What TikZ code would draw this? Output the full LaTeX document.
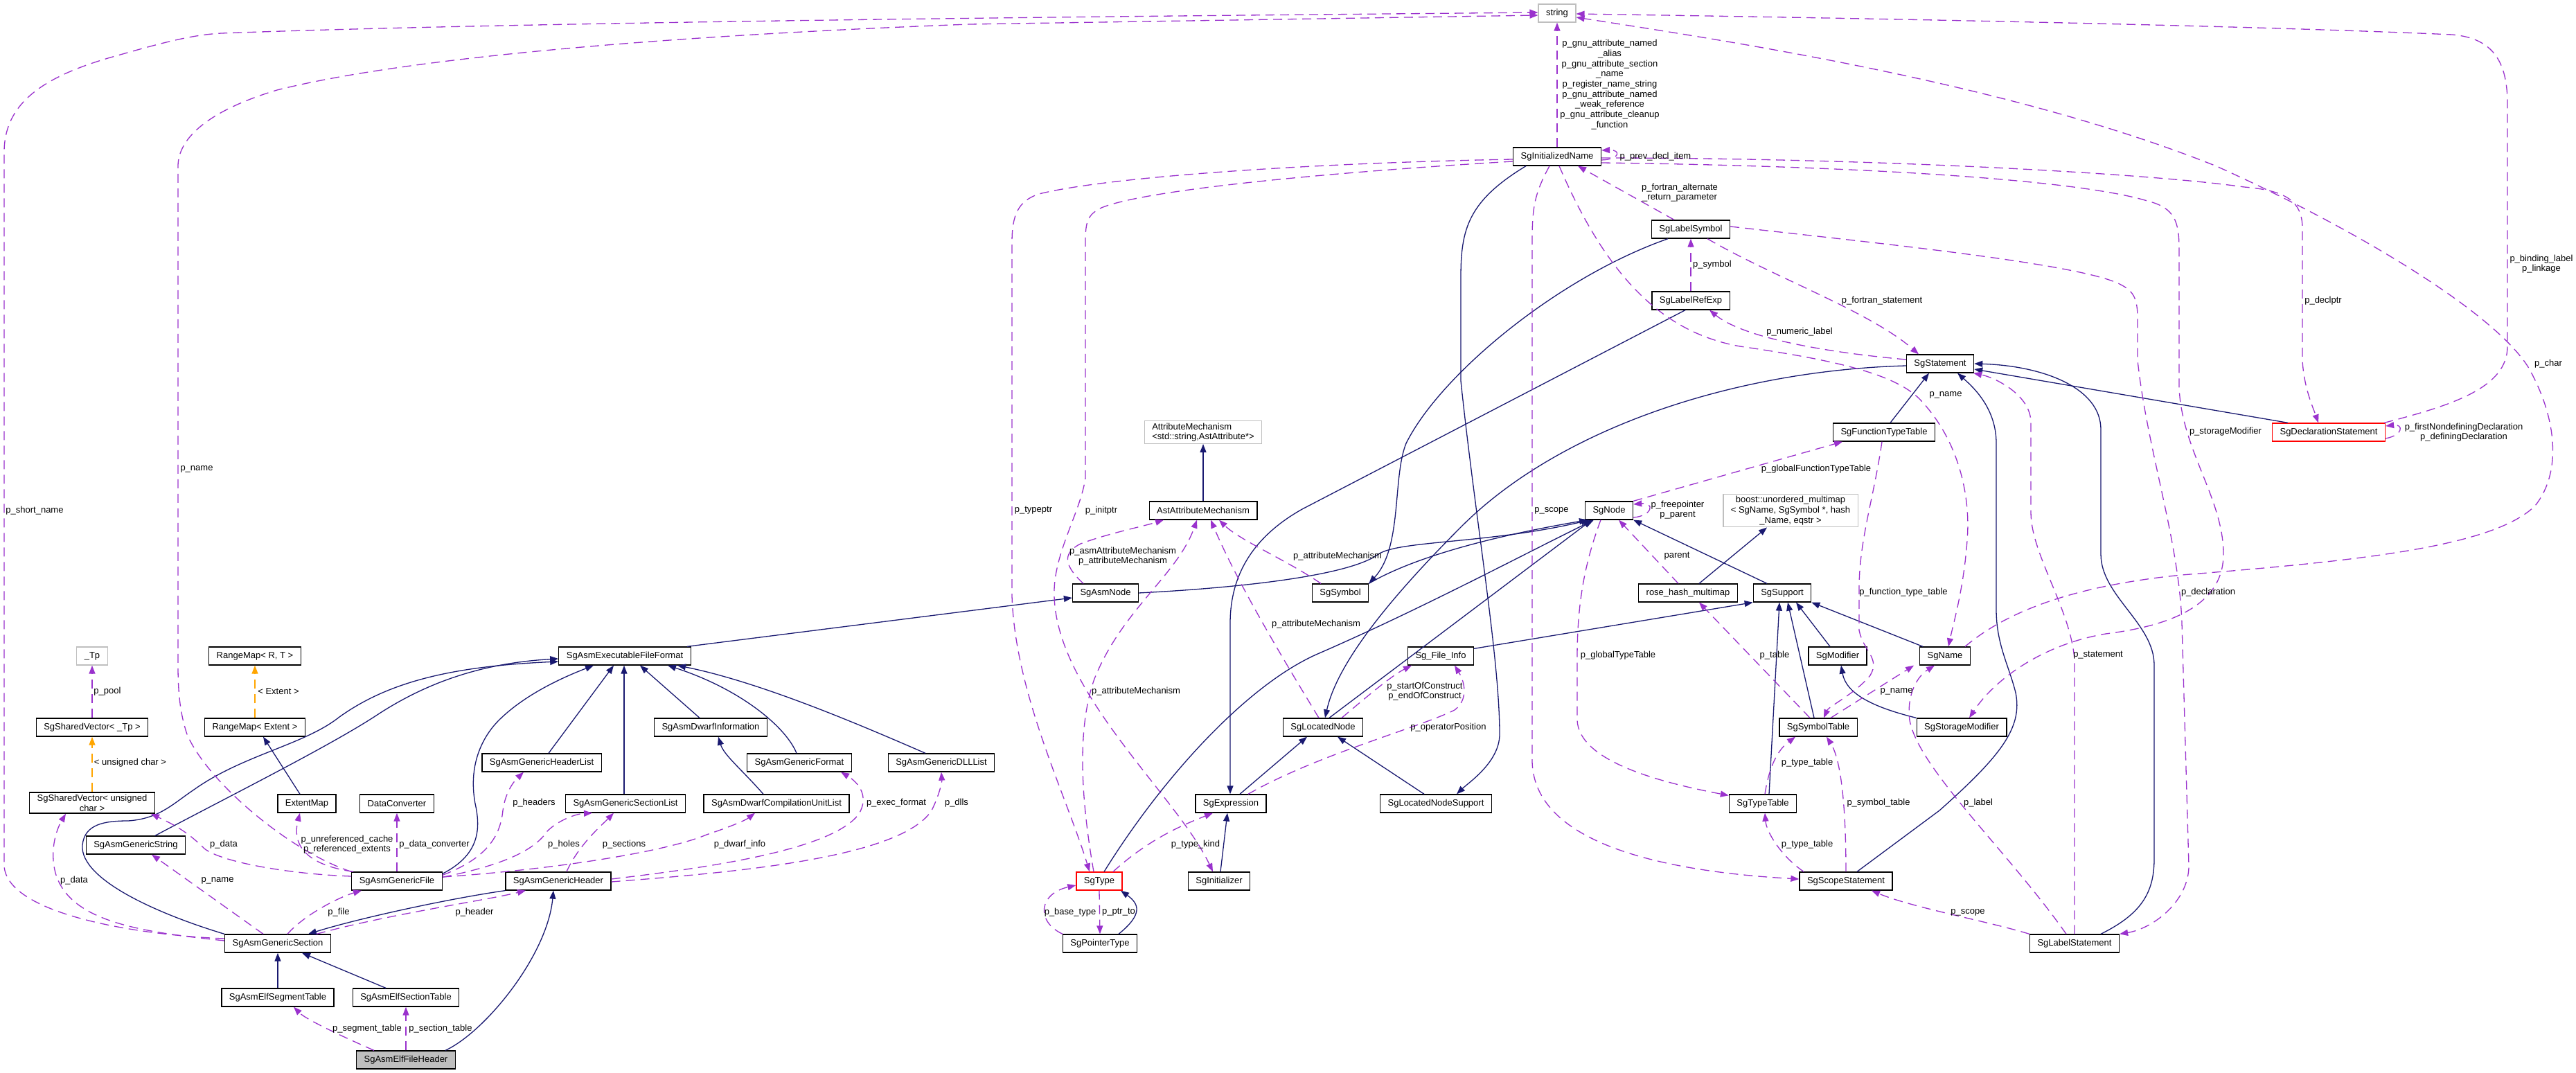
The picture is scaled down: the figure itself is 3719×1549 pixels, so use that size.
\documentclass[tikz,border=0pt]{standalone}
\usepackage{fontspec}
\setmainfont{Liberation Sans}
\usetikzlibrary{arrows.meta}
\definecolor{inhc}{RGB}{25,25,112}
\definecolor{usec}{RGB}{154,50,205}
\definecolor{tplc}{RGB}{255,165,0}
\definecolor{extc}{RGB}{191,191,191}

\begin{document}
\begin{tikzpicture}[x=1pt,y=-1pt,
    >={Triangle[length=12pt,width=9pt]},
    font=\fontsize{13}{14.7}\selectfont,
    nd/.style={draw=black, line width=1.3pt, fill=white, minimum height=26pt,
               inner xsep=11pt, inner ysep=3pt, align=center},
    ext/.style={nd, draw=extc},
    hot/.style={nd, draw=red},
    cur/.style={nd, fill=extc},
    lbl/.style={inner sep=0pt, align=center},
    inh/.style={->, draw=inhc, line width=1.3pt},
    use/.style={->, draw=usec, line width=1.3pt, dash pattern=on 13pt off 8pt},
    tpl/.style={->, draw=tplc, line width=1.3pt, dash pattern=on 13pt off 8pt}
  ]
  \useasboundingbox (0,0) rectangle (3719,1549);

  % classes
  \node[ext] (str)         at (2248,19)   {string};
  \node[nd]  (initname)    at (2248,226)  {SgInitializedName};
  \node[nd]  (labelsym)    at (2441,331)  {SgLabelSymbol};
  \node[nd]  (labelref)    at (2441,434)  {SgLabelRefExp};
  \node[nd]  (stmt)        at (2801,525)  {SgStatement};
  \node[hot] (declstmt)    at (3362,624)  {SgDeclarationStatement};
  \node[nd]  (functt)      at (2720,624)  {SgFunctionTypeTable};
  \node[ext, align=left] (attrmech) at (1737,624) {AttributeMechanism\\<std::string,AstAttribute*>};
  \node[nd]  (astattr)     at (1737,737)  {AstAttributeMechanism};
  \node[nd]  (sgnode)      at (2323,737)  {SgNode};
  \node[ext] (boostmm)     at (2585,737)  {boost::unordered\_multimap\\< SgName, SgSymbol *, hash\\\_Name, eqstr >};
  \node[nd]  (asmnode)     at (1596,856)  {SgAsmNode};
  \node[nd]  (sgsymbol)    at (1935,856)  {SgSymbol};
  \node[nd]  (rosehash)    at (2437,856)  {rose\_hash\_multimap};
  \node[nd]  (support)     at (2573,856)  {SgSupport};
  \node[ext] (tp)          at (133,947)   {\_Tp};
  \node[nd]  (rangemaprt)  at (368,947)   {RangeMap< R, T >};
  \node[nd]  (eff)         at (902,947)   {SgAsmExecutableFileFormat};
  \node[nd]  (fileinfo)    at (2080,947)  {Sg\_File\_Info};
  \node[nd]  (modifier)    at (2653,947)  {SgModifier};
  \node[nd]  (sgname)      at (2808,947)  {SgName};
  \node[nd]  (shvtp)       at (133,1050)  {SgSharedVector< \_Tp >};
  \node[nd]  (rangemapext) at (368,1050)  {RangeMap< Extent >};
  \node[nd]  (dwarfinfo)   at (1026,1050) {SgAsmDwarfInformation};
  \node[nd]  (located)     at (1910,1050) {SgLocatedNode};
  \node[nd]  (symtab)      at (2625,1050) {SgSymbolTable};
  \node[nd]  (storagemod)  at (2832,1050) {SgStorageModifier};
  \node[nd]  (hdrlist)     at (782,1101)  {SgAsmGenericHeaderList};
  \node[nd]  (genfmt)      at (1154,1101) {SgAsmGenericFormat};
  \node[nd]  (dlllist)     at (1359,1101) {SgAsmGenericDLLList};
  \node[nd]  (shvuc)       at (133,1159)  {SgSharedVector< unsigned\\char >};
  \node[nd]  (extentmap)   at (443,1160)  {ExtentMap};
  \node[nd]  (dataconv)    at (573,1160)  {DataConverter};
  \node[nd]  (seclist)     at (903,1160)  {SgAsmGenericSectionList};
  \node[nd]  (cul)         at (1121,1160) {SgAsmDwarfCompilationUnitList};
  \node[nd]  (expr)        at (1777,1160) {SgExpression};
  \node[nd]  (locsupport)  at (2073,1160) {SgLocatedNodeSupport};
  \node[nd]  (typetab)     at (2545,1160) {SgTypeTable};
  \node[nd]  (genstr)      at (196,1220)  {SgAsmGenericString};
  \node[nd]  (genfile)     at (573,1272)  {SgAsmGenericFile};
  \node[nd]  (genhdr)      at (806,1272)  {SgAsmGenericHeader};
  \node[hot] (sgtype)      at (1587,1272) {SgType};
  \node[nd]  (initializer) at (1760,1272) {SgInitializer};
  \node[nd]  (scopestmt)   at (2665,1272) {SgScopeStatement};
  \node[nd]  (gensec)      at (401,1362)  {SgAsmGenericSection};
  \node[nd]  (ptrtype)     at (1588,1362) {SgPointerType};
  \node[nd]  (labelstmt)   at (2995,1362) {SgLabelStatement};
  \node[nd]  (segtab)      at (401,1440)  {SgAsmElfSegmentTable};
  \node[nd]  (sectab)      at (586,1440)  {SgAsmElfSectionTable};
  \node[cur] (elfhdr)      at (586,1530)  {SgAsmElfFileHeader};

  % inheritance
  \draw[inh] ([xshift=57]elfhdr.north) .. controls (700,1490) and (790,1380) .. ([xshift=-7]genhdr.south);
  \draw[inh] (segtab) -- (gensec);
  \draw[inh] ([xshift=-29]sectab.north) -- ([xshift=35]gensec.south);
  \draw[inh] (genhdr.south west) .. controls (650,1297) and (520,1325) .. ([xshift=44]gensec.north);
  \draw[inh] (gensec.north west) .. controls (230,1320) and (115,1270) .. (119,1220)
             .. controls (122,1190) and (150,1185) .. (185,1185)
             .. controls (230,1182) and (250,1160) .. (280,1140)
             .. controls (350,1090) and (440,1075) .. (490,1035)
             .. controls (560,985) and (650,962) .. ([yshift=-8]eff.west);
  \draw[inh] ([xshift=28]genstr.north) .. controls (330,1150) and (470,1080) .. (540,1035)
             .. controls (600,995) and (680,958) .. ([yshift=-4]eff.west);
  \draw[inh] ([yshift=-3]genfile.north east) .. controls (690,1235) and (695,1200) .. (686,1160)
             .. controls (675,1100) and (700,1060) .. (720,1040)
             .. controls (760,1000) and (820,975) .. ([xshift=-45]eff.south);
  \draw[inh] ([xshift=10]hdrlist.north) -- ([xshift=-16]eff.south);
  \draw[inh] ([xshift=-2]seclist.north) -- ([xshift=-1]eff.south);
  \draw[inh] ([xshift=-16]dwarfinfo.north) -- ([xshift=22]eff.south);
  \draw[inh] ([xshift=-4]genfmt.north) .. controls (1135,1050) and (1070,995) .. ([xshift=62]eff.south);
  \draw[inh] ([xshift=-23]dlllist.north) .. controls (1250,1050) and (1100,985) .. ([xshift=76]eff.south);
  \draw[inh] ([xshift=-19]cul.north) .. controls (1070,1110) and (1045,1090) .. ([xshift=11]dwarfinfo.south);
  \draw[inh] ([xshift=-10]extentmap.north) -- ([xshift=12]rangemapext.south);
  \draw[inh] ([xshift=90]eff.north) -- ([yshift=-7]asmnode.west);
  \draw[inh] (asmnode.east) .. controls (1800,848) and (1950,830) .. (1990,800)
             .. controls (2020,780) and (2150,785) .. ([xshift=-28]sgnode.south);
  \draw[inh] (sgsymbol.north east) .. controls (2040,805) and (2150,775) .. ([xshift=-31]sgnode.south);
  \draw[inh] ([xshift=9]located.north) -- ([xshift=-25]sgnode.south);
  \draw[inh] ([xshift=7]sgtype.north) .. controls (1680,1120) and (1800,990) .. (1900,945)
             .. controls (2050,880) and (2200,800) .. ([xshift=-22]sgnode.south);
  \draw[inh] ([xshift=-22]support.north) -- (sgnode.south east);
  \draw[inh] ([xshift=-33]labelsym.south) .. controls (2250,400) and (2080,540) .. (2030,640)
             .. controls (2010,690) and (2025,790) .. (sgsymbol.north east);
  \draw[inh] ([xshift=-45]initname.south) .. controls (2120,290) and (2109,330) .. (2109,400)
             -- (2109,550) .. controls (2130,750) and (2165,950) .. (2165,1060)
             .. controls (2165,1100) and (2120,1130) .. ([xshift=30]locsupport.north);
  \draw[inh] ([xshift=-8]labelref.south) -- (1880,735) .. controls (1800,780) and (1776,840) .. (1776,900)
             -- ([xshift=-1]expr.north);
  \draw[inh] ([yshift=-3]stmt.west) .. controls (2500,535) and (2250,620) .. (2110,760)
             .. controls (2000,870) and (1930,960) .. ([xshift=3]located.north);
  \draw[inh] ([xshift=13]expr.north) -- ([xshift=-23]located.south);
  \draw[inh] ([xshift=-17]locsupport.north) -- ([xshift=21]located.south);
  \draw[inh] ([yshift=-3]fileinfo.north east) -- (support.south west);
  \draw[inh] ([xshift=9]typetab.north) -- ([xshift=-4]support.south);
  \draw[inh] ([xshift=-6]symtab.north) -- ([xshift=8]support.south);
  \draw[inh] ([xshift=-11]modifier.north) -- ([xshift=20]support.south);
  \draw[inh] ([xshift=-32]sgname.north) -- (support.south east);
  \draw[inh] (storagemod.north west) .. controls (2700,1020) and (2665,1000) .. ([xshift=5]modifier.south);
  \draw[inh] ([xshift=16]rosehash.north) -- ([xshift=-34]boostmm.south);
  \draw[inh] (astattr) -- (attrmech);
  \draw[inh] ([xshift=27]ptrtype.north) .. controls (1650,1320) and (1645,1305) .. ([xshift=31]sgtype.south);
  \draw[inh] ([xshift=2]initializer.north) -- ([xshift=-5]expr.south);
  \draw[inh] ([xshift=16]scopestmt.north) -- (2800,1170) .. controls (2890,1090) and (2920,1050) .. (2910,1000)
             .. controls (2900,960) and (2882,930) .. (2882,880) -- (2882,640)
             .. controls (2882,590) and (2850,560) .. ([xshift=25]stmt.south);
  \draw[inh] ([xshift=38]labelstmt.north) .. controls (3090,1320) and (3110,1290) .. (3110,1240)
             -- (3110,960) .. controls (3110,900) and (3033,860) .. (3033,800) -- (3033,620)
             .. controls (3033,560) and (2950,528) .. (stmt.east);
  \draw[inh] ([xshift=-59]declstmt.north) -- ([yshift=-8]stmt.east);
  \draw[inh] ([xshift=9]functt.north) -- ([xshift=-16]stmt.south);

  % templates
  \draw[tpl] (shvuc.north) -- (shvtp.south);
  \draw[tpl] (rangemapext.north) -- (rangemaprt.south);

  % usage
  \draw[use] ([xshift=-46]elfhdr.north) .. controls (480,1490) and (440,1470) .. ([xshift=23]segtab.south);
  \draw[use] (elfhdr.north) -- (sectab.south);
  \draw[use] ([xshift=56]gensec.north) .. controls (560,1320) and (700,1300) .. ([xshift=-47]genhdr.south);
  \draw[use] ([xshift=14]gensec.north) .. controls (440,1320) and (490,1295) .. ([xshift=-51]genfile.south);
  \draw[use] ([xshift=-21]gensec.north) -- ([xshift=23]genstr.south);
  \draw[use] ([yshift=4]gensec.west) .. controls (200,1345) and (100,1330) .. (80,1260)
             .. controls (72,1230) and (80,1200) .. ([xshift=-38]shvuc.south);
  \draw[use] ([yshift=7]gensec.west) .. controls (200,1350) and (10,1320) .. (6,1250) -- (6,220)
             .. controls (6,150) and (60,110) .. (170,80) .. controls (240,60) and (280,50) .. (320,48)
             .. controls (800,30) and (1800,22) .. ([yshift=1]str.west);
  \draw[use] (genfile.north west) .. controls (420,1230) and (300,1130) .. (270,1060)
             .. controls (260,1030) and (257,1000) .. (257,960) -- (257,240)
             .. controls (257,200) and (300,160) .. (400,130)
             .. controls (600,80) and (1000,50) .. (1400,35) -- ([yshift=-3]str.west);
  \draw[use] ([yshift=7]genfile.west) .. controls (420,1262) and (320,1245) .. (295,1225)
             .. controls (270,1200) and (250,1190) .. ([xshift=-6]shvuc.south east);
  \draw[use] ([xshift=3]genfile.north west) .. controls (450,1250) and (420,1225) .. ([xshift=-10]extentmap.south);
  \draw[use] (genfile.north) -- (dataconv.south);
  \draw[use] ([yshift=-5]genfile.north east) .. controls (700,1240) and (722,1210) .. (726,1170)
             .. controls (730,1140) and (745,1125) .. ([xshift=-26]hdrlist.south);
  \draw[use] ([yshift=-8]genfile.north east) .. controls (720,1250) and (770,1230) .. (790,1200)
             .. controls (805,1185) and (830,1175) .. ([xshift=-48]seclist.south);
  \draw[use] ([xshift=12]genhdr.north) .. controls (835,1220) and (870,1190) .. ([xshift=-17]seclist.south);
  \draw[use] ([yshift=6]genfile.east) .. controls (800,1255) and (960,1230) .. (1020,1205)
             .. controls (1050,1195) and (1075,1185) .. ([xshift=-31]cul.south);
  \draw[use] ([yshift=3]genhdr.east) .. controls (1000,1255) and (1200,1230) .. (1240,1175)
             .. controls (1255,1150) and (1240,1130) .. ([xshift=60]genfmt.south);
  \draw[use] ([yshift=-1]genhdr.east) .. controls (1050,1260) and (1300,1240) .. (1345,1170)
             .. controls (1355,1150) and (1360,1130) .. (dlllist.south);
  \draw[use] (shvtp.north) -- (tp.south);
  \draw[use] ([xshift=-32]asmnode.north) .. controls (1540,820) and (1530,800) .. (1560,785)
             .. controls (1600,770) and (1650,760) .. ([xshift=-57]astattr.south);
  \draw[use] ([xshift=-8]sgtype.north) .. controls (1560,1150) and (1555,1050) .. (1580,980)
             .. controls (1620,880) and (1700,830) .. ([xshift=-9]astattr.south);
  \draw[use] ([xshift=-6]located.north) .. controls (1870,980) and (1790,850) .. ([xshift=11]astattr.south);
  \draw[use] ([xshift=-28]sgsymbol.north) .. controls (1860,810) and (1790,780) .. ([xshift=23]astattr.south);
  \draw[use] ([yshift=-10]sgnode.east) .. controls (2385,745) and (2390,725) .. ([yshift=9]sgnode.east);
  \draw[use] (sgnode.north east) -- ([xshift=-60]functt.south);
  \draw[use] ([xshift=-14]rosehash.north) -- ([xshift=14]sgnode.south);
  \draw[use] ([xshift=-12]sgnode.south) .. controls (2285,820) and (2277,880) .. (2277,950) -- (2277,1040)
             .. controls (2280,1100) and (2400,1130) .. ([yshift=-2]typetab.north west);
  \draw[use] ([xshift=-3]functt.south) .. controls (2705,720) and (2684,780) .. (2684,850) -- (2684,910)
             .. controls (2690,940) and (2715,950) .. (2700,975)
             .. controls (2680,1000) and (2640,1020) .. ([xshift=8]symtab.north);
  \draw[use] ([xshift=-12]symtab.north) -- ([xshift=16]rosehash.south);
  \draw[use] ([xshift=18]symtab.north) -- ([xshift=-8]sgname.south west);
  \draw[use] ([xshift=-61]scopestmt.north) .. controls (2570,1235) and (2550,1200) .. ([xshift=3]typetab.south);
  \draw[use] ([xshift=3]typetab.north) .. controls (2555,1100) and (2570,1080) .. ([xshift=-33]symtab.south);
  \draw[use] (scopestmt.north) .. controls (2665,1180) and (2660,1100) .. ([xshift=12]symtab.south);
  \draw[use] ([xshift=-11]initname.south) .. controls (2215,280) and (2212,300) .. (2212,350) -- (2212,1100)
             .. controls (2215,1200) and (2350,1255) .. ([yshift=3]scopestmt.west);
  \draw[use] (labelstmt.north west) .. controls (2870,1330) and (2760,1310) .. ([xshift=37]scopestmt.south);
  \draw[use] ([xshift=-12]labelstmt.north) .. controls (2900,1230) and (2770,1110) .. (2757,1040)
             .. controls (2752,1000) and (2770,975) .. ([xshift=-15]sgname.south);
  \draw[use] (labelstmt.north) -- (2995,953) .. controls (2990,880) and (2932,800) .. (2932,740) -- (2932,610)
             .. controls (2932,570) and (2880,545) .. ([xshift=48]stmt.south);
  \draw[use] ([yshift=4]labelsym.east) .. controls (2700,350) and (3000,380) .. (3060,410)
             .. controls (3080,420) and (3086,430) .. (3086,460) -- (3086,520)
             .. controls (3100,650) and (3146,780) .. (3150,900) -- (3160,1250)
             .. controls (3160,1300) and (3110,1340) .. (labelstmt.north east);
  \draw[use] ([yshift=-2]initname.east) .. controls (2700,228) and (3100,250) .. (3240,270)
             .. controls (3300,275) and (3324,290) .. (3324,330) -- (3324,520)
             .. controls (3326,560) and (3340,590) .. ([xshift=-15]declstmt.north);
  \draw[use] ([yshift=-9]initname.east) .. controls (2700,240) and (3000,260) .. (3100,290)
             .. controls (3140,300) and (3146,320) .. (3146,360) -- (3146,560)
             .. controls (3150,650) and (3210,720) .. (3210,800)
             .. controls (3210,880) and (3120,905) .. (3040,915)
             .. controls (2950,930) and (2880,980) .. ([xshift=11]storagemod.north);
  \draw[use] ([yshift=-5]initname.east) .. controls (2340,230) and (2340,216) .. ([yshift=9]initname.east);
  \draw[use] (initname.north) -- (str.south);
  \draw[use] ([xshift=-2]declstmt.north east) .. controls (3540,585) and (3620,560) .. (3620,500) -- (3620,150)
             .. controls (3620,90) and (3600,55) .. (3540,50)
             .. controls (3200,35) and (2600,25) .. ([yshift=-1]str.east);
  \draw[use] ([xshift=29]sgname.north) .. controls (2900,880) and (3000,845) .. (3150,830)
             .. controls (3400,810) and (3600,790) .. (3660,730)
             .. controls (3700,680) and (3690,600) .. (3650,530)
             .. controls (3600,450) and (3400,330) .. (3200,240)
             .. controls (2900,120) and (2500,60) .. ([yshift=-6]str.east);
  \draw[use] (labelref.north) -- (labelsym.south);
  \draw[use] ([yshift=6]stmt.west) .. controls (2650,510) and (2520,490) .. ([xshift=27]labelref.south);
  \draw[use] ([xshift=24]labelsym.south) .. controls (2560,400) and (2700,450) .. ([xshift=-31]stmt.north);
  \draw[use] ([xshift=-24]labelsym.north) -- ([xshift=30]initname.south);
  \draw[use] ([xshift=3]initname.south) .. controls (2320,400) and (2400,480) .. (2512,500)
             .. controls (2650,520) and (2740,540) .. (2775,580)
             .. controls (2830,640) and (2845,720) .. (2840,780)
             .. controls (2835,850) and (2820,900) .. ([xshift=5]sgname.north);
  \draw[use] ([xshift=-54]ptrtype.north) .. controls (1495,1330) and (1500,1290) .. ([yshift=-6]sgtype.west);
  \draw[use] (sgtype.south) -- (ptrtype.north);
  \draw[use] ([xshift=20]sgtype.north) .. controls (1660,1210) and (1710,1190) .. ([xshift=-26]expr.south);
  \draw[use] ([yshift=-4]initname.west) .. controls (1900,235) and (1600,255) .. (1500,280)
             .. controls (1470,290) and (1461,310) .. (1461,350) -- (1461,860)
             .. controls (1465,1000) and (1540,1150) .. ([xshift=-14]sgtype.north);
  \draw[use] ([yshift=-7]initname.west) .. controls (1900,250) and (1650,275) .. (1590,300)
             .. controls (1570,310) and (1567,320) .. (1567,350) -- (1567,690)
             .. controls (1560,740) and (1520,800) .. (1522,860)
             .. controls (1525,1000) and (1700,1150) .. ([xshift=-9]initializer.north);
  \draw[use] ([xshift=25]expr.north) .. controls (1900,1090) and (2050,1050) .. (2100,1025)
             .. controls (2120,1010) and (2115,985) .. ([xshift=20]fileinfo.south);
  \draw[use] ([xshift=27]located.north) .. controls (1980,1000) and (2010,975) .. ([xshift=-42]fileinfo.south);
  \draw[use] ([yshift=-9]declstmt.east) .. controls (3470,628) and (3470,612) .. ([yshift=9]declstmt.east);

  % edge labels
  \node[lbl] (lsegtab)    at (530,1485)  {p\_segment\_table};
  \node[lbl] (lsectab)    at (636,1485)  {p\_section\_table};
  \node[lbl] (lheader)    at (685,1317)  {p\_header};
  \node[lbl] (lfile)      at (489,1317)  {p\_file};
  \node[lbl] (lsecname)   at (314,1271)  {p\_name};
  \node[lbl] (lsecdata)   at (107,1271)  {p\_data};
  \node[lbl] (lshort)     at (50,737)    {p\_short\_name};
  \node[lbl] (lfilename)  at (284,677)   {p\_name};
  \node[lbl] (lfiledata)  at (323,1219)  {p\_data};
  \node[lbl] (lextent)    at (501,1219)  {p\_unreferenced\_cache\\p\_referenced\_extents};
  \node[lbl] (lconv)      at (627,1219)  {p\_data\_converter};
  \node[lbl] (lheaders)   at (771,1159)  {p\_headers};
  \node[lbl] (lholes)     at (814,1219)  {p\_holes};
  \node[lbl] (lsections)  at (901,1219)  {p\_sections};
  \node[lbl] (ldwarf)     at (1068,1219) {p\_dwarf\_info};
  \node[lbl] (lexec)      at (1294,1159) {p\_exec\_format};
  \node[lbl] (ldlls)      at (1381,1159) {p\_dlls};
  \node[lbl] (lpool)      at (155,998)   {p\_pool};
  \node[lbl] (luchar)     at (188,1101)  {< unsigned char >};
  \node[lbl] (lext)       at (402,998)   {< Extent >};
  \node[lbl] (lasmattr)   at (1621,803)  {p\_asmAttributeMechanism\\p\_attributeMechanism};
  \node[lbl] (ltypeattr)  at (1640,998)  {p\_attributeMechanism};
  \node[lbl] (llocattr)   at (1900,901)  {p\_attributeMechanism};
  \node[lbl] (lsymattr)   at (1931,803)  {p\_attributeMechanism};
  \node[lbl] (lfree)      at (2422,736)  {p\_freepointer\\p\_parent};
  \node[lbl] (lgft)       at (2622,677)  {p\_globalFunctionTypeTable};
  \node[lbl] (lparent)    at (2421,803)  {parent};
  \node[lbl] (lgtt)       at (2336,946)  {p\_globalTypeTable};
  \node[lbl] (lftt)       at (2748,855)  {p\_function\_type\_table};
  \node[lbl] (ltable)     at (2562,946)  {p\_table};
  \node[lbl] (lsymname)   at (2738,998)  {p\_name};
  \node[lbl] (ltt1)       at (2609,1219) {p\_type\_table};
  \node[lbl] (ltt2)       at (2609,1101) {p\_type\_table};
  \node[lbl] (lsymtab)    at (2712,1159) {p\_symbol\_table};
  \node[lbl] (lscope)     at (2240,737)  {p\_scope};
  \node[lbl] (lscope2)    at (2841,1317) {p\_scope};
  \node[lbl] (llabel)     at (2856,1159) {p\_label};
  \node[lbl] (lstatement) at (3029,946)  {p\_statement};
  \node[lbl] (ldecl)      at (3188,855)  {p\_declaration};
  \node[lbl] (ldeclptr)   at (3354,434)  {p\_declptr};
  \node[lbl] (lstorage)   at (3213,623)  {p\_storageModifier};
  \node[lbl] (lprev)      at (2390,226)  {p\_prev\_decl\_item};
  \node[lbl] (lgnu)       at (2324,122)  {p\_gnu\_attribute\_named\\\_alias\\p\_gnu\_attribute\_section\\\_name\\p\_register\_name\_string\\p\_gnu\_attribute\_named\\\_weak\_reference\\p\_gnu\_attribute\_cleanup\\\_function};
  \node[lbl] (lbinding)   at (3669,381)  {p\_binding\_label\\p\_linkage};
  \node[lbl] (lchar)      at (3679,525)  {p\_char};
  \node[lbl] (lsymbol)    at (2472,382)  {p\_symbol};
  \node[lbl] (lnumeric)   at (2598,479)  {p\_numeric\_label};
  \node[lbl] (lfortran)   at (2717,434)  {p\_fortran\_statement};
  \node[lbl] (lalt)       at (2425,278)  {p\_fortran\_alternate\\\_return\_parameter};
  \node[lbl] (linitname)  at (2809,570)  {p\_name};
  \node[lbl] (lbase)      at (1545,1317) {p\_base\_type};
  \node[lbl] (lptr)       at (1615,1317) {p\_ptr\_to};
  \node[lbl] (lkind)      at (1726,1219) {p\_type\_kind};
  \node[lbl] (ltypeptr)   at (1492,737)  {p\_typeptr};
  \node[lbl] (linitptr)   at (1590,737)  {p\_initptr};
  \node[lbl] (lopos)      at (2091,1050) {p\_operatorPosition};
  \node[lbl] (lsoc)       at (2057,998)  {p\_startOfConstruct\\p\_endOfConstruct};
  \node[lbl] (lfirst)     at (3557,624)  {p\_firstNondefiningDeclaration\\p\_definingDeclaration};
\end{tikzpicture}
\end{document}
